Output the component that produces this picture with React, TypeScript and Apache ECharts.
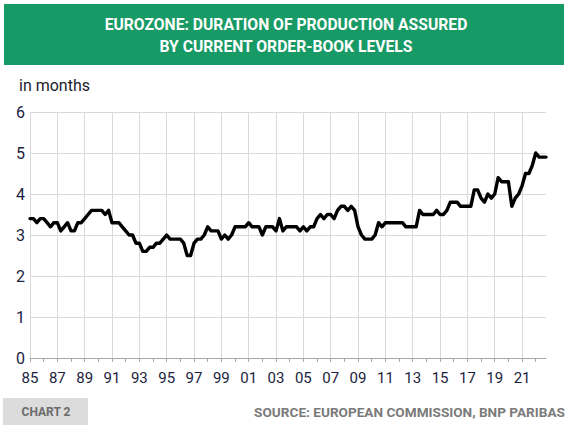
import React, { useEffect, useRef } from "react";
import * as echarts from "echarts";

// Quarterly values, in months (Q1..Q4 per year)
const values1985to1989 = [
  3.4, 3.4, 3.3, 3.4,
  3.4, 3.3, 3.2, 3.3,
  3.3, 3.1, 3.2, 3.3,
  3.1, 3.1, 3.3, 3.3,
  3.4, 3.5, 3.6, 3.6,
];
const values1990to1999 = [
  3.6, 3.6, 3.5, 3.6,
  3.3, 3.3, 3.3, 3.2,
  3.1, 3.0, 3.0, 2.8,
  2.8, 2.6, 2.6, 2.7,
  2.7, 2.8, 2.8, 2.9,
  3.0, 2.9, 2.9, 2.9,
  2.9, 2.8, 2.5, 2.5,
  2.8, 2.9, 2.9, 3.0,
  3.2, 3.1, 3.1, 3.1,
  2.9, 3.0, 2.9, 3.0,
];
const values2000to2009 = [
  3.2, 3.2, 3.2, 3.2,
  3.3, 3.2, 3.2, 3.2,
  3.0, 3.2, 3.2, 3.2,
  3.1, 3.4, 3.1, 3.2,
  3.2, 3.2, 3.2, 3.1,
  3.2, 3.1, 3.2, 3.2,
  3.4, 3.5, 3.4, 3.5,
  3.5, 3.4, 3.6, 3.7,
  3.7, 3.6, 3.7, 3.6,
  3.2, 3.0, 2.9, 2.9,
];
const values2010to2019 = [
  2.9, 3.0, 3.3, 3.2,
  3.3, 3.3, 3.3, 3.3,
  3.3, 3.3, 3.2, 3.2,
  3.2, 3.2, 3.6, 3.5,
  3.5, 3.5, 3.5, 3.6,
  3.5, 3.5, 3.6, 3.8,
  3.8, 3.8, 3.7, 3.7,
  3.7, 3.7, 4.1, 4.1,
  3.9, 3.8, 4.0, 3.9,
  4.0, 4.4, 4.3, 4.3,
];
const values2020to2022 = [
  4.3, 3.7, 3.9, 4.0,
  4.2, 4.5, 4.5, 4.7,
  5.0, 4.9, 4.9, 4.9,
];

const firstYear = 1985;
const lastYear = 2022;
const tickLabels = [
  "85", "87", "89", "91", "93", "95", "97", "99", "01", "03",
  "05", "07", "09", "11", "13", "15", "17", "19", "21",
];
const yTicks = [0, 6, 1]; // min, max, step

const titleLines = [
  "EUROZONE: DURATION OF PRODUCTION ASSURED",
  "BY CURRENT ORDER-BOOK LEVELS",
];
const unitLabel = "in months";
const chartTag = "CHART 2";
const sourceText = "SOURCE: EUROPEAN COMMISSION, BNP PARIBAS";

export default function App() {
  const ref = useRef<HTMLDivElement>(null);

  useEffect(() => {
    document.body.style.margin = "0";
    const values = [
      ...values1985to1989,
      ...values1990to1999,
      ...values2000to2009,
      ...values2010to2019,
      ...values2020to2022,
    ];
    const categories: string[] = [];
    for (let y = firstYear; y <= lastYear; y++) {
      for (let q = 1; q <= 4; q++) categories.push(`${y}Q${q}`);
    }
    const chart = echarts.init(ref.current!, null, { renderer: "svg" });
    const labelColor = "#1b2340";
    chart.setOption({
      animation: false,
      backgroundColor: "#ffffff",
      grid: { left: 30, right: 23, top: 112, bottom: 74, containLabel: false },
      xAxis: {
        type: "category",
        data: categories,
        boundaryGap: false,
        axisLine: { show: true, lineStyle: { color: "#a8a8a8", width: 1 } },
        axisTick: {
          show: true,
          length: 4,
          interval: (i: number) => i % 4 === 0,
          lineStyle: { color: "#a8a8a8" },
        },
        axisLabel: {
          interval: (i: number) => i % 8 === 0,
          formatter: (_v: string, i: number) => tickLabels[i / 8] ?? "",
          fontSize: 15,
          fontFamily: "Roboto",
          color: labelColor,
          margin: 12,
        },
        splitLine: {
          show: true,
          interval: (i: number) => i % 8 === 0,
          lineStyle: { color: "#d9d9d9", width: 1 },
        },
      },
      yAxis: {
        type: "value",
        min: yTicks[0],
        max: yTicks[1],
        interval: yTicks[2],
        axisLine: { show: false },
        axisTick: { show: false },
        axisLabel: {
          fontSize: 16,
          fontFamily: "Roboto",
          color: labelColor,
          margin: 5,
        },
        splitLine: { show: true, lineStyle: { color: "#d9d9d9", width: 1 } },
      },
      series: [
        {
          type: "line",
          data: values,
          symbol: "none",
          lineStyle: { color: "#000000", width: 3.4, join: "round", cap: "round" },
          z: 5,
        },
      ],
      graphic: [
        {
          type: "rect",
          shape: { x: 4, y: 4, width: 560, height: 61 },
          style: { fill: "#179a65" },
          silent: true,
        },
        {
          type: "text",
          style: {
            text: titleLines[0],
            x: 286,
            y: 24,
            fill: "#ffffff",
            font: "bold 15.7px Roboto",
            align: "center",
            verticalAlign: "middle",
            textAlign: "center",
            textVerticalAlign: "middle",
          },
        },
        {
          type: "text",
          style: {
            text: titleLines[1],
            x: 286,
            y: 46,
            fill: "#ffffff",
            font: "bold 15.7px Roboto",
            align: "center",
            verticalAlign: "middle",
            textAlign: "center",
            textVerticalAlign: "middle",
          },
        },
        {
          type: "text",
          style: {
            text: unitLabel,
            x: 19,
            y: 85,
            fill: "#1b1b2a",
            font: "16px Roboto",
            align: "left",
            verticalAlign: "middle",
            textAlign: "left",
            textVerticalAlign: "middle",
          },
        },
        {
          type: "rect",
          shape: { x: 3, y: 398, width: 85, height: 27 },
          style: { fill: "#dcdcdc" },
          silent: true,
        },
        {
          type: "text",
          style: {
            text: chartTag,
            x: 46,
            y: 412,
            fill: "#6b6b6b",
            font: "bold 12px Roboto",
            align: "center",
            verticalAlign: "middle",
            textAlign: "center",
            textVerticalAlign: "middle",
          },
        },
        {
          type: "text",
          style: {
            text: sourceText,
            x: 565,
            y: 412,
            fill: "#7a7a7a",
            font: "bold 13.6px Roboto",
            align: "right",
            verticalAlign: "middle",
            textAlign: "right",
            textVerticalAlign: "middle",
          },
        },
      ],
    });
    return () => chart.dispose();
  }, []);

  return <div ref={ref} style={{ width: 569, height: 432, background: "#fff" }} />;
}
